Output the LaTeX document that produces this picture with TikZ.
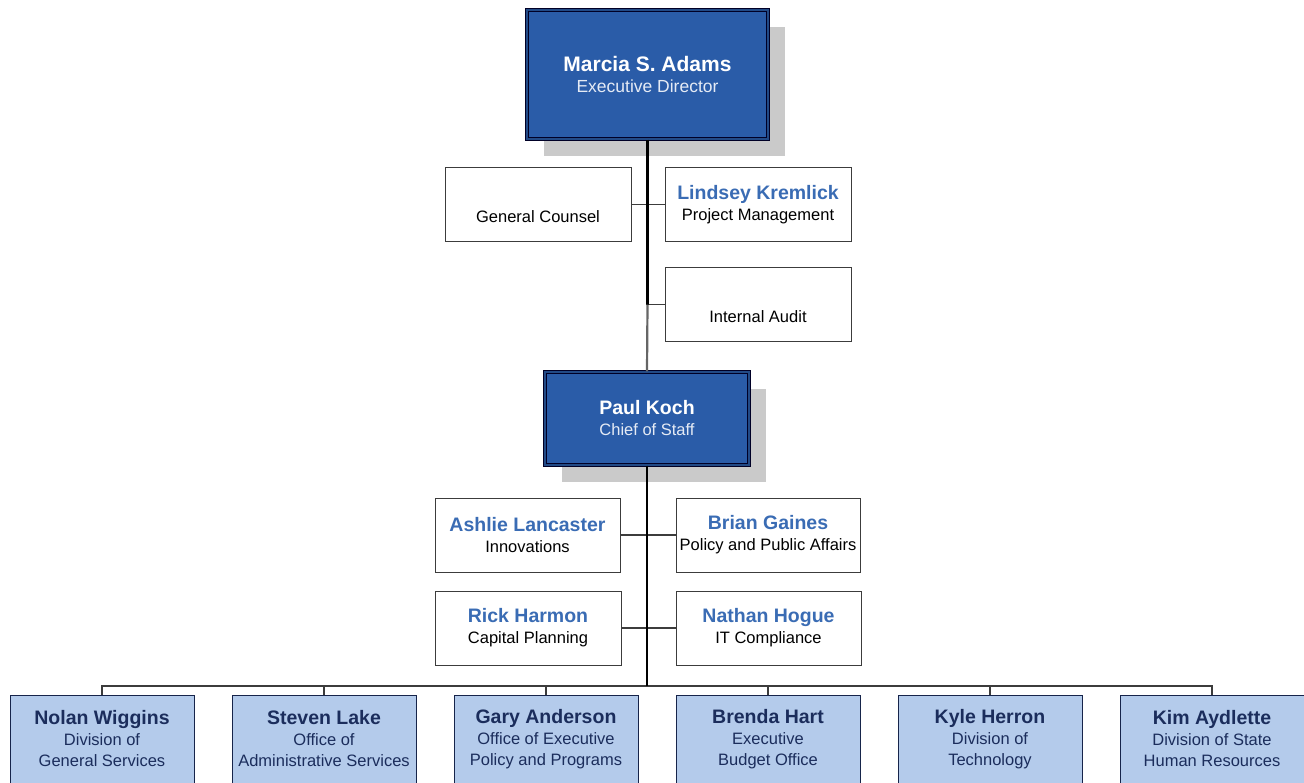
\documentclass[tikz,border=0pt]{standalone}
\usepackage{fontspec}
\setmainfont{Liberation Sans}
\usepackage{xcolor}
\usetikzlibrary{calc, shadows}
\definecolor{dirblue}{RGB}{42,92,168}
\definecolor{divblue}{RGB}{180,203,235}
\definecolor{nameblue}{RGB}{58,108,180}
\definecolor{navy}{RGB}{27,45,92}
\definecolor{boxgray}{RGB}{60,60,60}
\definecolor{shadowgray}{RGB}{202,202,202}
\newcommand{\boxname}[1]{{\fontsize{19.5}{21}\bfseries\selectfont #1}}
\newcommand{\bigname}[1]{{\fontsize{21}{24}\bfseries\selectfont #1}}
\tikzset{
  unit/.style = {rectangle, align=center, inner sep=0pt, text centered,
    font=\fontsize{16.5}{21}\selectfont, draw=boxgray, line width=1pt,
    fill=white, minimum height=74pt},
  staff/.style = {unit, minimum width=186pt},% cadre, bureau
  head/.style = {unit, fill=dirblue, text=white, draw=black!85!blue,
    double=dirblue!80!black, double distance=1.6pt, line width=1.1pt,
    drop shadow={shadow xshift=17pt, shadow yshift=-17pt,
      fill=shadowgray, opacity=1}},% direction
  division/.style = {unit, fill=divblue, text=navy, draw=navy!80!black,
    minimum width=184pt, minimum height=88pt},% division
  trunk/.style = {line width=2.6pt, black},
  link/.style = {line width=1.2pt, boxgray}
}
\begin{document}
\begin{tikzpicture}[x=1pt, y=-1pt]
\useasboundingbox (0,0) rectangle (1304,782);
\clip (0,0) rectangle (1304,782);

\node[head, minimum width=241pt, minimum height=129pt] (o1) at (647.5,74.5)
  {\bigname{Marcia S. Adams}\\ {\fontsize{17.5}{24}\selectfont\color{white!88!dirblue}Executive Director}};
\node[staff] (o2) at (538,204.5) {\boxname{\strut}\\General Counsel};
\node[staff] (o3) at (758,204.5) {\boxname{\color{nameblue}Lindsey Kremlick}\\Project Management};
\node[staff] (o4) at (758,304.5) {\boxname{\strut}\\Internal Audit};
\node[head, minimum width=204pt, minimum height=93pt] (o5) at (647,418.5)
  {\boxname{Paul Koch}\\ {\color{white!88!dirblue}Chief of Staff}};
\node[staff, minimum width=185pt] (o6) at (527.5,535) {\boxname{\color{nameblue}Ashlie Lancaster}\\Innovations};
\node[staff, minimum width=184pt] (o7) at (768,535) {\boxname{\color{nameblue}Brian Gaines}\\Policy and Public Affairs};
\node[staff] (o8) at (528,628) {\boxname{\color{nameblue}Rick Harmon}\\Capital Planning};
\node[staff, minimum width=185pt] (o9) at (768.5,628) {\boxname{\color{nameblue}Nathan Hogue}\\IT Compliance};

\node[division] (o10) at (102,739) {\boxname{Nolan Wiggins}\\Division of\\General Services};
\node[division] (o11) at (324,739) {\boxname{Steven Lake}\\Office of\\Administrative Services};
\node[division] (o12) at (546,739) {\boxname{Gary Anderson}\\Office of Executive\\Policy and Programs};
\node[division] (o13) at (768,739) {\boxname{Brenda Hart}\\Executive\\Budget Office};
\node[division] (o14) at (990,739) {\boxname{Kyle Herron}\\Division of\\Technology};
\node[division] (o15) at (1212,739) {\boxname{Kim Aydlette}\\Division of State\\Human Resources};

\coordinate (t1) at (o4.west -| o1.south);
\coordinate (bus) at (647,686);
\draw[link] (o2.east) -- (o3.west);
\draw[link] (o4.west) -- (t1);
\draw[link] (o6.east) -- (o7.west);
\draw[link] (o8.east) -- (o9.west);
\draw[trunk] (o1.south) -- (t1);
\draw[line width=2.2pt, black!60] (t1) -- (o5.north);
\foreach \i in {10,...,15}
  \draw[link] (o\i.north) |- (bus);
\draw[trunk] (o5.south) -- (bus);
\end{tikzpicture}
\end{document}
